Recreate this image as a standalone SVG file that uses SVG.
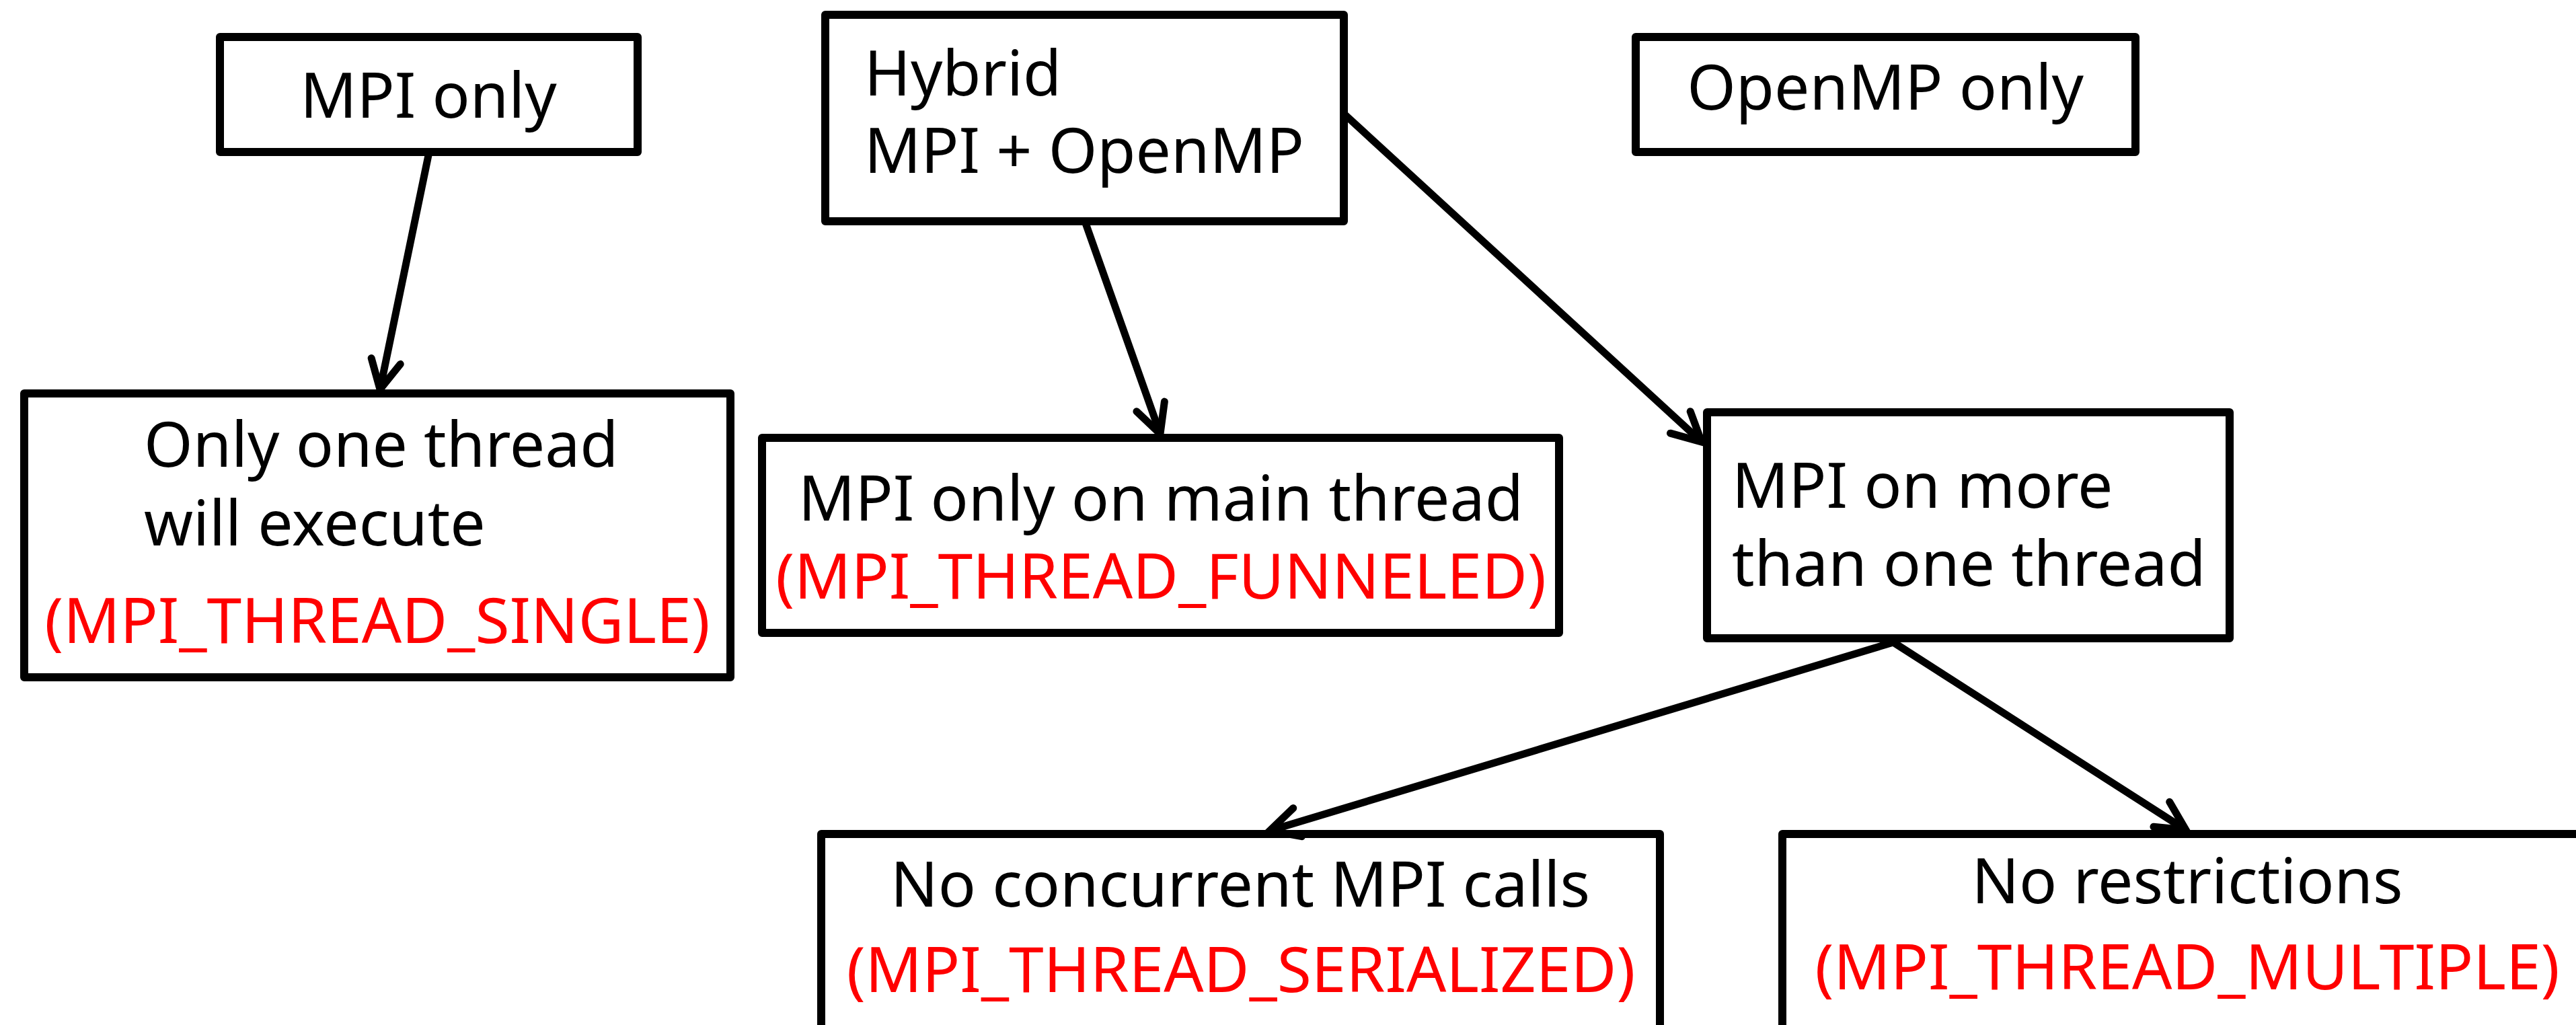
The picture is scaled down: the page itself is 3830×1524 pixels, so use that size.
<svg xmlns="http://www.w3.org/2000/svg" width="3830" height="1524" viewBox="0 0 3830 1524">
<style>
.box{fill:#ffffff;stroke:#000000;stroke-width:12;stroke-linejoin:round}
.t{font-family:"Noto Sans","Open Sans","DejaVu Sans",sans-serif;font-size:93px;fill:#000000}
.r{fill:#ff0000}
.c{text-anchor:middle}
.conn{stroke:#000000;stroke-width:11;fill:none}
</style>
<defs>
<marker id="ah" markerUnits="userSpaceOnUse" viewBox="-60 -60 120 120" markerWidth="120" markerHeight="120" refX="0" refY="0" orient="auto" overflow="visible">
<path d="M-43,-22 L0,0 L-43,22" fill="none" stroke="#000000" stroke-width="11" stroke-linecap="round" stroke-linejoin="miter"/>
</marker>
</defs>
<rect width="3830" height="1524" fill="#ffffff"/>
<g id="n-mpi-only">
<rect class="box" x="327" y="55" width="621" height="171"/>
<text class="t c" x="637" y="175">MPI only</text>
</g>
<g id="n-hybrid">
<rect class="box" x="1227" y="22" width="771" height="307"/>
<text class="t" x="1285" y="142">Hybrid</text>
<text class="t" x="1285" y="257">MPI + OpenMP</text>
</g>
<g id="n-openmp-only">
<rect class="box" x="2432" y="55" width="743" height="171"/>
<text class="t c" x="2803" y="163">OpenMP only</text>
</g>
<g id="n-single">
<rect class="box" x="36" y="585" width="1050" height="422"/>
<text class="t" x="214" y="694">Only one thread</text>
<text class="t" x="214" y="811">will execute</text>
<text class="t r c" x="561" y="956">(MPI_THREAD_SINGLE)</text>
</g>
<g id="n-funneled">
<rect class="box" x="1133" y="651" width="1185" height="290"/>
<text class="t c" x="1726" y="774">MPI only on main thread</text>
<text class="t r c" x="1726" y="890">(MPI_THREAD_FUNNELED)</text>
</g>
<g id="n-more">
<rect class="box" x="2538" y="613" width="777" height="336"/>
<text class="t" x="2575" y="755">MPI on more</text>
<text class="t" x="2575" y="871">than one thread</text>
</g>
<g id="n-serialized">
<rect class="box" x="1221" y="1240" width="1247" height="320"/>
<text class="t c" x="1844" y="1348">No concurrent MPI calls</text>
<text class="t r c" x="1845" y="1475">(MPI_THREAD_SERIALIZED)</text>
</g>
<g id="n-multiple">
<rect class="box" x="2650" y="1240" width="1250" height="320"/>
<text class="t c" x="3252" y="1343">No restrictions</text>
<text class="t r c" x="3252" y="1471">(MPI_THREAD_MULTIPLE)</text>
</g>
<g id="connectors">
<line class="conn" x1="638" y1="226" x2="565" y2="579" marker-end="url(#ah)"/>
<line class="conn" x1="1613" y1="329" x2="1725" y2="645" marker-end="url(#ah)"/>
<line class="conn" x1="1998" y1="169" x2="2530" y2="657" marker-end="url(#ah)"/>
<line class="conn" x1="2815" y1="955" x2="1888" y2="1235" marker-end="url(#ah)"/>
<line class="conn" x1="2815" y1="955" x2="3250" y2="1234" marker-end="url(#ah)"/>
</g>
</svg>
